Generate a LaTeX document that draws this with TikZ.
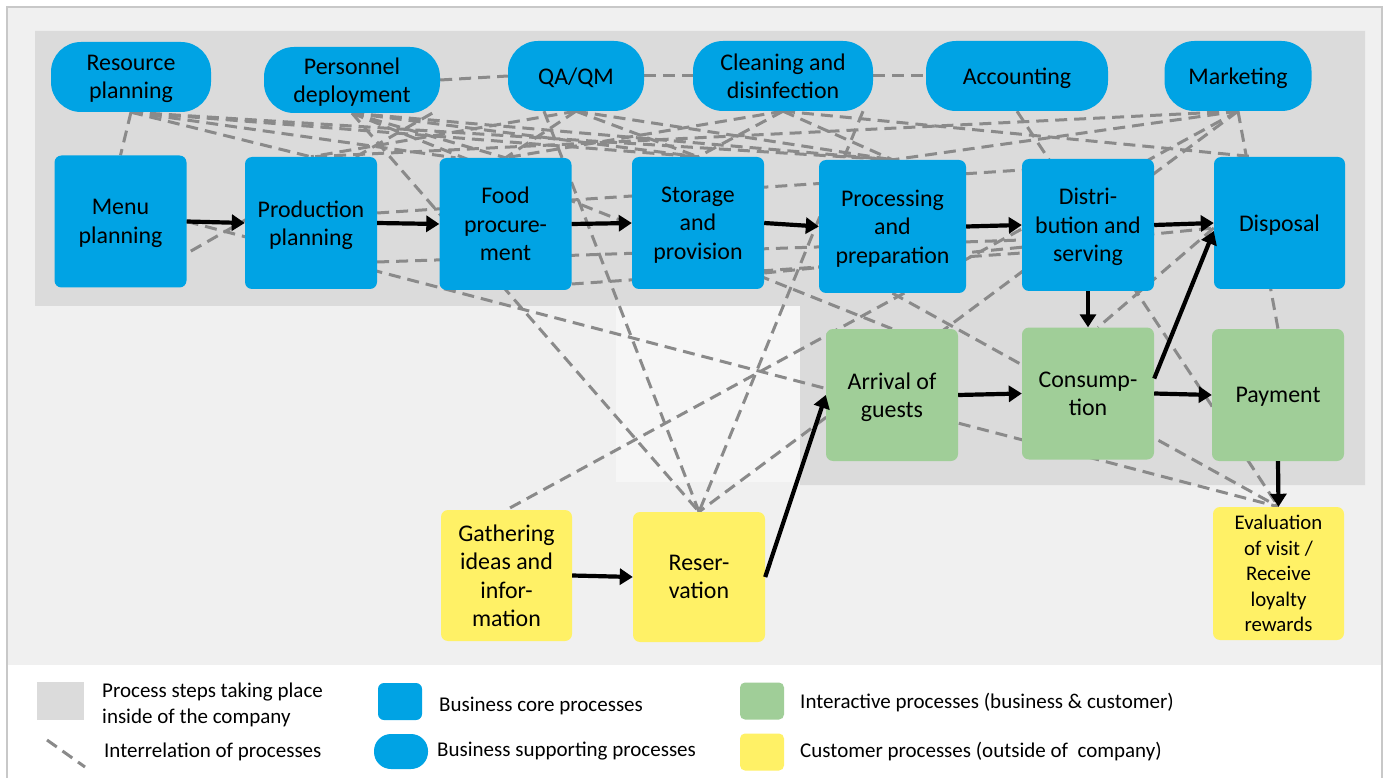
\documentclass[tikz,border=0pt]{standalone}
\usepackage{fontspec}
\setmainfont{Carlito}
\usetikzlibrary{arrows.meta}

\pgfdeclarelayer{base}
\pgfdeclarelayer{links}
\pgfsetlayers{base,links,main}

\definecolor{corebl}{RGB}{0,163,228}
\definecolor{interg}{RGB}{160,206,152}
\definecolor{custy}{RGB}{255,241,102}
\definecolor{zone}{RGB}{219,219,219}
\definecolor{canvasg}{RGB}{240,240,240}
\definecolor{linkg}{RGB}{138,138,138}
\definecolor{frameg}{RGB}{200,200,200}
\definecolor{paleg}{RGB}{246,246,246}

\tikzset{
  box/.style={inner sep=0pt, align=center, text=black, text depth=-3pt,
    font=\fontsize{23.9}{28.5}\selectfont},
  core/.style={box, fill=corebl, rounded corners=7pt,
    minimum width=132pt, minimum height=132pt},
  support/.style={box, fill=corebl, rounded corners=30pt, minimum height=70pt},
  inter/.style={box, fill=interg, rounded corners=7pt,
    minimum width=132pt, minimum height=132pt},
  cust/.style={box, fill=custy, rounded corners=7pt,
    minimum width=131pt, minimum height=131pt},
  link/.style={draw=linkg, line width=3pt, dash pattern=on 12pt off 7pt},
  flow/.style={draw=black, line width=4.2pt, -{Triangle[length=13pt,width=16pt]}},
  legtext/.style={anchor=west, align=left, inner sep=0pt,
    font=\fontsize{21}{26}\selectfont},
  swatch/.style={inner sep=0pt, minimum width=44pt, minimum height=37pt},
}

\begin{document}
\begin{tikzpicture}[x=1pt,y=-1pt]
\useasboundingbox (0,0) rectangle (1385,778);

% ---------- backdrop ----------
\begin{pgfonlayer}{base}
  \fill[white] (0,0) rectangle (1385,778);
  \fill[canvasg] (7,7) rectangle (1382,665);
  \fill[zone] (35,31) -- (1365,31) -- (1365,485) -- (800,485) -- (800,306) -- (35,306) -- cycle;
  \fill[paleg] (616,306) rectangle (800,482);
  \draw[frameg, line width=2pt] (7,778) -- (7,7) -- (1382,7) -- (1382,778);
\end{pgfonlayer}

% ---------- supporting processes ----------
\node[support, minimum width=160pt] (resource)   at (131,77)  {Resource\\planning};
\node[support, minimum width=176pt, minimum height=66pt] (personnel) at (352,80) {Personnel\\deployment};
\node[support, minimum width=136pt] (qa)         at (576,76)  {QA/QM};
\node[support, minimum width=180pt] (cleaning)   at (783,76)  {Cleaning and\\disinfection};
\node[support, minimum width=182pt] (accounting) at (1017,76) {Accounting};
\node[support, minimum width=147pt] (marketing)  at (1238,76) {Marketing};

% ---------- core processes ----------
\node[core] (menu)         at (120.5,221.5) {Menu\\planning};
\node[core] (production)   at (311,223)     {Production\\planning};
\node[core] (food)         at (505.5,224)   {Food\\procure-\\ment};
\node[core] (storage)      at (698,223)     {Storage\\and\\provision};
\node[core, minimum width=147pt, minimum height=133pt] (processing) at (892.5,226.5) {Processing\\and\\preparation};
\node[core] (distribution) at (1088,225)    {Distri-\\bution and\\serving};
\node[core, minimum width=131pt, text depth=0pt] (disposal) at (1279.5,223) {Disposal};

% ---------- interactive processes ----------
\node[inter] (arrival)     at (892,395)    {Arrival of\\guests};
\node[inter] (consumption) at (1088,393.5) {Consump-\\tion};
\node[inter, text depth=0pt] (payment) at (1278,395) {Payment};

% ---------- customer processes ----------
\node[cust] (gathering)   at (506.5,575.5) {Gathering\\ideas and\\infor-\\mation};
\node[cust, minimum width=132pt, minimum height=130pt] (reservation) at (699,577) {Reser-\\vation};
\node[cust, minimum height=133pt, text depth=-1pt, font=\fontsize{20.8}{25.4}\selectfont] (evaluation) at (1278.5,573.5)
  {Evaluation\\of visit /\\Receive\\loyalty\\rewards};

% ---------- interrelations ----------
\begin{pgfonlayer}{links}
  \draw[link] (personnel.east) -- (qa.west);
  \draw[link] (qa.east) -- (cleaning.west);
  \draw[link] (cleaning.east) -- (accounting.west);

  \draw[link] (resource.south) -- (menu.north);
  \draw[link] (resource.south) -- (production.north);
  \draw[link] (resource.south) -- ([xshift=-50pt]food.north);
  \draw[link] (resource.south) -- (storage.north);
  \draw[link] (resource.south) -- (processing.north);

  \draw[link] (personnel.south) -- (food.north);
  \draw[link] (personnel.south) -- (storage.north);
  \draw[link] (personnel.south) -- (processing.north);
  \draw[link] (personnel.south) -- (reservation.north);
  \draw[link] (personnel.south) -- (arrival.north);
  \draw[link] ([xshift=-8pt]personnel.south east) -- ([yshift=-32pt]menu.east);

  \draw[link] (qa.south) -- (production.north);
  \draw[link] (qa.south) -- (food.north);
  \draw[link] (qa.south) -- (storage.north);
  \draw[link] (qa.south) -- (processing.north);
  \draw[link] ([xshift=-32pt]qa.south) -- (reservation.north);

  \draw[link] (cleaning.south) -- (food.north);
  \draw[link] (cleaning.south) -- (storage.north);
  \draw[link] (cleaning.south) -- (processing.north);
  \draw[link] (cleaning.south) -- ([xshift=-25pt]disposal.north);
  \draw[link] ([xshift=80pt]cleaning.south) -- (reservation.north);

  \draw[link] (accounting.south) -- (evaluation.north);

  \draw[link] (marketing.south) -- (production.north);
  \draw[link] (marketing.south) -- (processing.north);
  \draw[link] (marketing.south) -- (gathering.north);
  \draw[link] (marketing.south) -- (reservation.north);
  \draw[link] (marketing.south) -- (payment.north);

  \draw[link] (menu.east) -- (evaluation.north);
  \draw[link] (processing.south) -- (evaluation.north);
  \draw[link] ([yshift=10pt]production.east) -- ([yshift=55pt]distribution.west);
  \draw[link] ([yshift=-39pt]production.east) -- ([yshift=-15pt]distribution.west);
  \draw[link] ([yshift=-60pt]food.east) -- ([yshift=-28pt]distribution.west);
  \draw[link] ([yshift=-50pt]storage.east) -- ([yshift=-5pt]disposal.west);
  \draw[link] ([yshift=-5pt]disposal.west) -- ([xshift=10pt]consumption.north);
\end{pgfonlayer}

% ---------- process flow ----------
\draw[flow] (menu.east) -- (production.west);
\draw[flow] (production.east) -- (food.west);
\draw[flow] (food.east) -- (storage.west);
\draw[flow] (storage.east) -- (processing.west);
\draw[flow] (processing.east) -- (distribution.west);
\draw[flow] (distribution.east) -- (disposal.west);
\draw[flow] (distribution.south) -- (consumption.north);
\draw[flow] (arrival.east) -- (consumption.west);
\draw[flow] (consumption.east) -- (payment.west);
\draw[flow] ([yshift=15pt]consumption.east) -- ([yshift=-8pt]disposal.west);
\draw[flow] (payment.south) -- (evaluation.north);
\draw[flow] (gathering.east) -- (reservation.west);
\draw[flow] (reservation.east) -- (arrival.west);

% ---------- legend ----------
\node[swatch, fill=zone, minimum width=47pt, minimum height=38pt] (lgzone) at (60.5,701) {};
\node[legtext] (lgzonet) at (102,705) {Process steps taking place\\inside of the company};
\coordinate (lgA) at (47,740);
\coordinate (lgB) at (85,767);
\draw[link] (lgA) -- (lgB);
\node[legtext] (lglinkt) at (104,752) {Interrelation of processes};

\node[swatch, fill=corebl, rounded corners=6pt] (lgcore) at (400,701.5) {};
\node[legtext] (lgcoret) at (439,706) {Business core processes};
\node[swatch, fill=corebl, rounded corners=17pt, minimum width=54pt, minimum height=35pt] (lgsupp) at (401,751.5) {};
\node[legtext] (lgsuppt) at (437,751) {Business supporting processes};

\node[swatch, fill=interg, rounded corners=5pt] (lginter) at (762,701) {};
\node[legtext] (lgintert) at (800,703) {Interactive processes (business \& customer)};
\node[swatch, fill=custy, rounded corners=5pt] (lgcust) at (762,752) {};
\node[legtext] (lgcustt) at (800,752) {Customer processes (outside of\ \ company)};
\end{tikzpicture}
\end{document}
